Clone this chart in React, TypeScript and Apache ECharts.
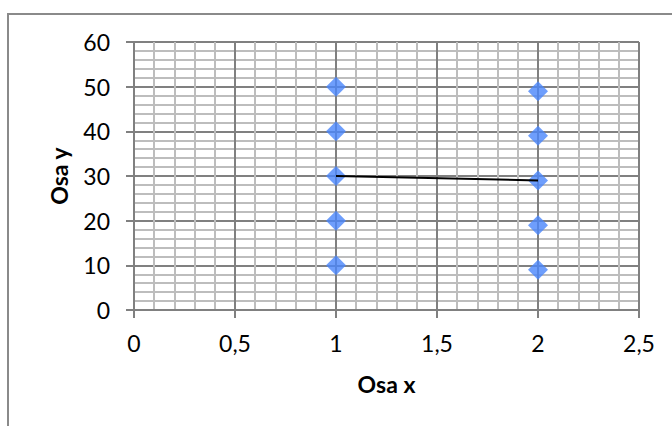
import React, { useEffect, useRef } from "react";
import * as echarts from "echarts";

const xAxisTicks = [0, 0.5, 1, 1.5, 2, 2.5];
const yAxisTicks = [0, 10, 20, 30, 40, 50, 60];
const groupAX = [1, 1, 1, 1, 1];
const groupAY = [10, 20, 30, 40, 50];
const groupBX = [2, 2, 2, 2, 2];
const groupBY = [9, 19, 29, 39, 49];
const lineX = [1, 2];
const lineY = [30, 29];

const FONT = "Lato, 'Open Sans', sans-serif";

export default function App() {
  const ref = useRef<HTMLDivElement>(null);
  useEffect(() => {
    if (!ref.current) return;
    const chart = echarts.init(ref.current, undefined, { renderer: "svg" });
    const pts = (xs: number[], ys: number[]) => xs.map((x, i) => [x, ys[i]]);
    chart.setOption({
      animation: false,
      backgroundColor: "#ffffff",
      textStyle: { fontFamily: FONT },
      graphic: [
        {
          type: "rect",
          shape: { x: 8, y: 14, width: 720, height: 460 },
          style: { fill: "none", stroke: "#8a8a8a", lineWidth: 2 },
          silent: true,
          z: -10,
        },
      ],
      grid: { left: 134, right: 33, top: 42, bottom: 116, containLabel: false },
      xAxis: {
        type: "value",
        min: xAxisTicks[0],
        max: xAxisTicks[xAxisTicks.length - 1],
        interval: 0.5,
        name: "Osa x",
        nameLocation: "middle",
        nameGap: 62,
        nameTextStyle: { fontFamily: FONT, fontSize: 23, fontWeight: "bold", color: "#000" },
        axisLine: { show: true, onZero: false, lineStyle: { color: "#808080", width: 2 } },
        axisTick: { show: true, length: 8, lineStyle: { color: "#808080", width: 2 } },
        axisLabel: {
          fontFamily: FONT,
          fontSize: 23,
          color: "#000",
          margin: 21,
          formatter: (v: number) => String(v).replace(".", ","),
        },
        splitLine: { show: true, lineStyle: { color: "#808080", width: 2 } },
        minorTick: { show: false, splitNumber: 5 },
        minorSplitLine: { show: true, lineStyle: { color: "#bdbdbd", width: 2 } },
      },
      yAxis: {
        type: "value",
        min: yAxisTicks[0],
        max: yAxisTicks[yAxisTicks.length - 1],
        interval: 10,
        name: "Osa y",
        nameLocation: "middle",
        nameGap: 64,
        nameTextStyle: { fontFamily: FONT, fontSize: 23, fontWeight: "bold", color: "#000" },
        axisLine: { show: true, onZero: false, lineStyle: { color: "#808080", width: 2 } },
        axisTick: { show: true, length: 8, lineStyle: { color: "#808080", width: 2 } },
        axisLabel: { fontFamily: FONT, fontSize: 23, color: "#000", margin: 24 },
        splitLine: { show: true, lineStyle: { color: "#808080", width: 2 } },
        minorTick: { show: false, splitNumber: 5 },
        minorSplitLine: { show: true, lineStyle: { color: "#bdbdbd", width: 2 } },
      },
      series: [
        {
          type: "scatter",
          data: pts(groupAX, groupAY),
          symbol: "diamond",
          symbolSize: 20,
          itemStyle: { color: "#4a86fb" },
          z: 2,
        },
        {
          type: "scatter",
          data: pts(groupBX, groupBY),
          symbol: "diamond",
          symbolSize: 20,
          itemStyle: { color: "#4a86fb" },
          z: 2,
        },
        {
          type: "line",
          data: pts(lineX, lineY),
          showSymbol: false,
          symbol: "none",
          lineStyle: { color: "#000", width: 2 },
          z: 3,
        },
      ],
    });
    return () => chart.dispose();
  }, []);
  return (
    <div
      ref={ref}
      style={{ position: "fixed", left: 0, top: 0, width: 672, height: 426, background: "#fff" }}
    />
  );
}
